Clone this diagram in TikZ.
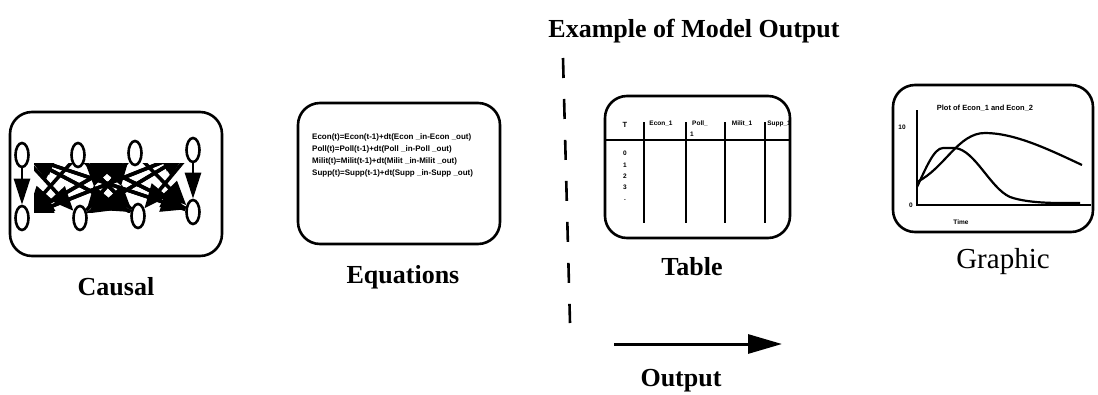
\documentclass[tikz,border=0pt]{standalone}
\usepackage{fontspec}
\setmainfont{Liberation Serif}
\newfontfamily\eqfont{Liberation Sans}
\usetikzlibrary{arrows.meta,shapes.geometric}
\begin{document}
\begin{tikzpicture}[x=1pt,y=-1pt,
  panel/.style={draw, line width=2.6pt, rounded corners=22pt, inner sep=0pt},
  lab/.style={font=\fontsize{26}{30}\selectfont\bfseries, anchor=base, inner sep=0pt},
  ell/.style={ellipse, draw, line width=2.6pt, minimum width=13pt, minimum height=24pt, inner sep=0pt},
  carrow/.style={line width=3.6pt, -{Triangle[length=24pt,width=20pt]}, shorten <=0pt, shorten >=0pt},
  vcarrow/.style={line width=2.6pt, -{Triangle[length=26pt,width=16pt]}},
  eqtext/.style={font=\eqfont\bfseries\fontsize{8}{12}\selectfont, align=left, anchor=north west, inner sep=0pt},
  tiny/.style={font=\eqfont\bfseries\fontsize{6.5}{7}\selectfont, inner sep=0pt},
  rule/.style={line width=2.2pt},
  curve/.style={line width=2.2pt}]
\useasboundingbox (0,0) rectangle (1098,394);

% ---- panels ----
\node[panel, minimum width=212pt, minimum height=144pt] (causal) at (116,184) {};
\node[panel, minimum width=202pt, minimum height=141pt] (eqs) at (399,173.5) {};
\node[panel, minimum width=185pt, minimum height=142pt] (tbl) at (697.5,167) {};
\node[panel, minimum width=200pt, minimum height=147pt] (gfx) at (993,158.5) {};

% ---- labels ----
\node[lab] (lcausal) at (116,295) {Causal};
\node[lab] (leqs) at (403,283) {Equations};
\node[lab] (ltbl) at (692,275) {Table};
\node[lab, font=\fontsize{29}{32}\selectfont] (lgfx) at (1003,268) {Graphic};
\node[lab] (ltitle) at (694,37) {Example of Model Output};
\node[lab] (lout) at (681,386) {Output};

% ---- causal diagram ----
\node[ell] (t1) at (22,155) {};
\node[ell] (t2) at (78,155) {};
\node[ell] (t3) at (135,153) {};
\node[ell] (t4) at (193,150) {};
\node[ell] (b1) at (22,218) {};
\node[ell] (b2) at (80,218) {};
\node[ell] (b3) at (138,216) {};
\node[ell] (b4) at (193,212) {};
\draw[vcarrow] (t1) -- (b1);
\draw[vcarrow] (t4) -- (b4);
\begin{scope}
\clip (34,163) rectangle (186,212);
\draw[carrow] (t1) -- (b2);
\draw[carrow] (t1) -- (b3);
\draw[carrow] (t1) -- (b4);
\draw[carrow] (t2) -- (b1);
\draw[carrow] (t2) -- (b3);
\draw[carrow] (t2) -- (b4);
\draw[carrow] (t3) -- (b1);
\draw[carrow] (t3) -- (b2);
\draw[carrow] (t3) -- (b4);
\draw[carrow] (t4) -- (b1);
\draw[carrow] (t4) -- (b2);
\draw[carrow] (t4) -- (b3);
\draw[carrow] (b2) -- (t4);
\draw[carrow] (b1) -- (t3);
\draw[carrow] (b3) -- (t2);
\draw[carrow] (b4) -- (t1);
\draw[carrow] (b3) -- (t1);
\draw[carrow] (b2) -- (t3);
\draw[carrow] (b1) -- (t4);
\draw[carrow] (b4) -- (t2);
\end{scope}

% ---- equations ----
\node[eqtext] (eqlines) at (312,133) {Econ(t)=Econ(t-1)+dt(Econ \_in-Econ \_out)\\
Poll(t)=Poll(t-1)+dt(Poll \_in-Poll \_out)\\
Milit(t)=Milit(t-1)+dt(Milit \_in-Milit \_out)\\
Supp(t)=Supp(t-1)+dt(Supp \_in-Supp \_out)};

% ---- table ----
\coordinate (hl1) at (606,140);
\coordinate (hl2) at (789,140);
\draw[rule] (hl1) -- (hl2);
\foreach \i/\x in {1/644,2/686,3/725,4/765} {
  \coordinate (vt\i) at (\x,122);
  \coordinate (vb\i) at (\x,223);
  \draw[line width=1.8pt] (vt\i) -- (vb\i);
}
\node[tiny, font=\eqfont\bfseries\fontsize{7.5}{8}\selectfont] (hT) at (625,125) {T};
\node[tiny] (hE) at (661,124) {Econ\_1};
\node[tiny] (hP) at (700,124) {Poll\_};
\node[tiny] (hP1) at (692,134) {1};
\node[tiny] (hM) at (742,124) {Milit\_1};
\node[tiny] (hS) at (779,124) {Supp\_1};
\node[tiny] (r0) at (625,153) {0};
\node[tiny] (r1) at (625,165) {1};
\node[tiny] (r2) at (625,176) {2};
\node[tiny] (r3) at (625,187) {3};
\node[tiny] (r4) at (625,200) {.};

% ---- graphic ----
\coordinate (yax) at (917,110);
\coordinate (org) at (917,205);
\coordinate (xax) at (1091,205);
\draw[rule] (yax) -- (org) -- (xax);
\node[tiny, font=\eqfont\bfseries\fontsize{7.5}{8}\selectfont] (gt) at (985,108) {Plot of Econ\_1 and Econ\_2};
\node[tiny] (g10) at (902,127) {10};
\node[tiny] (g0) at (911,205) {0};
\node[tiny] (gtime) at (961,222) {Time};
\draw[curve] (917,187) .. controls (926,168) and (934,148) .. (943,148) -- (955,148)
  .. controls (975,150) and (990,188) .. (1010,197) .. controls (1030,204) and (1060,203) .. (1080,203);
\draw[curve] (917,182) .. controls (945,168) and (958,133) .. (985,133)
  .. controls (1015,133) and (1050,150) .. (1082,165);

% ---- separator and arrow ----
\coordinate (sepTop) at (563,58);
\coordinate (sepBot) at (570,323);
\draw[line width=2.6pt, dash pattern=on 20pt off 21pt] (sepTop) -- (sepBot);
\coordinate (arrS) at (614,344);
\coordinate (arrE) at (782,344);
\draw[line width=3pt, -{Triangle[length=34pt,width=19pt]}] (arrS) -- (arrE);
\end{tikzpicture}
\end{document}
